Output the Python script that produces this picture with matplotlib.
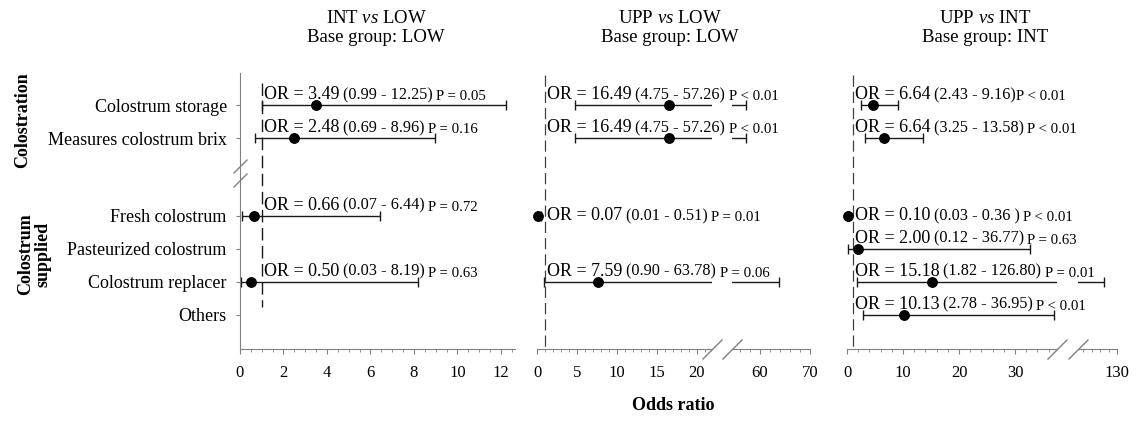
import numpy as np
import matplotlib.pyplot as plt
from matplotlib.ticker import MultipleLocator

plt.rcParams['font.family'] = 'Liberation Serif'
plt.rcParams['mathtext.fontset'] = 'custom'
plt.rcParams['mathtext.rm'] = 'Liberation Serif'
plt.rcParams['mathtext.it'] = 'Liberation Serif:italic'

nan = np.nan
rows = ["Colostrum storage", "Measures colostrum brix", "Fresh colostrum",
        "Pasteurized colostrum", "Colostrum replacer", "Others"]

# INT vs LOW
p1_point = [3.49, 2.48, 0.66, nan, 0.50, nan]
p1_low = [0.99, 0.69, 0.07, nan, 0.03, nan]
p1_high = [12.25, 8.96, 6.44, nan, 8.19, nan]
p1_or = ["OR = 3.49", "OR = 2.48", "OR = 0.66", None, "OR = 0.50", None]
p1_ci = [" (0.99 - 12.25)", " (0.69 - 8.96)", " (0.07 - 6.44)", None, " (0.03 - 8.19)", None]
p1_p = [" P = 0.05", " P = 0.16", " P = 0.72", None, " P = 0.63", None]

# UPP vs LOW
p2_point = [16.49, 16.49, 0.07, nan, 7.59, nan]
p2_low = [4.75, 4.75, 0.01, nan, 0.90, nan]
p2_high = [57.26, 57.26, 0.51, nan, 63.78, nan]
p2_or = ["OR = 16.49", "OR = 16.49", "OR = 0.07", None, "OR = 7.59", None]
p2_ci = [" (4.75 - 57.26)", " (4.75 - 57.26)", " (0.01 - 0.51)", None, " (0.90 - 63.78)", None]
p2_p = [" P < 0.01", " P < 0.01", " P = 0.01", None, " P = 0.06", None]

# UPP vs INT
p3_point = [4.7, 6.64, 0.10, 2.00, 15.18, 10.13]
p3_low = [2.43, 3.25, 0.03, 0.12, 1.82, 2.78]
p3_high = [9.16, 13.58, 0.36, 32.6, 126.80, 36.95]
p3_or = ["OR = 6.64", "OR = 6.64", "OR = 0.10", "OR = 2.00", "OR = 15.18", "OR = 10.13"]
p3_ci = [" (2.43 - 9.16)", " (3.25 - 13.58)", " (0.03 - 0.36 )", " (0.12 - 36.77)",
         " (1.82 - 126.80)", " (2.78 - 36.95)"]
p3_p = ["P < 0.01", " P < 0.01", " P < 0.01", " P = 0.63", " P = 0.01", " P < 0.01"]

titles = ["INT $\\mathit{vs}$ LOW\nBase group: LOW",
          "UPP $\\mathit{vs}$ LOW\nBase group: LOW",
          "UPP $\\mathit{vs}$ INT\nBase group: INT"]

W, H = 1136, 421
GRAY = '#808080'
ypos = np.r_[np.arange(2), np.arange(4) + 3.35]
YLIM = (7.39, -0.97)

fig = plt.figure(figsize=(W / 100, H / 100), dpi=100)


def make_ax(left, width, xlim, z=1):
    ax = fig.add_axes([left / W, (H - 349) / H, width / W, 276 / H], zorder=z)
    ax.patch.set_visible(False)
    ax.set_xlim(*xlim)
    ax.set_ylim(*YLIM)
    for s in ['top', 'right', 'left']:
        ax.spines[s].set_visible(False)
    ax.spines['bottom'].set_color(GRAY)
    ax.set_yticks([])
    ax.tick_params(axis='x', which='major', length=3.5, color=GRAY, labelsize=12, pad=8)
    ax.tick_params(axis='x', which='minor', length=2.5, color=GRAY)
    return ax


def draw(axes, point, low, high):
    point, low, high = map(np.asarray, (point, low, high))
    ok = ~np.isnan(point)
    for i, ax in enumerate(axes):
        ax.errorbar(point[ok], ypos[ok], xerr=[point[ok] - low[ok], high[ok] - point[ok]],
                    fmt='none', ecolor='0.1', elinewidth=1, capsize=3.6, capthick=1)
        if i == 0:
            ax.plot(point[ok], ypos[ok], 'o', color='black', ms=6.8, clip_on=False, zorder=4)


def labels(ax, low, high, ors, cis, ps):
    for y, lo, hi, a, b, c in zip(ypos, low, high, ors, cis, ps):
        if a is None:
            continue
        centered = (hi - lo) < 1
        t = ax.annotate(a, xy=(1, y), xytext=(1.5, 0 if centered else 1.5),
                        textcoords='offset points', ha='left',
                        va='center' if centered else 'bottom', fontsize=13)
        for s, fs in ((b, 11.7), (c, 10.7)):
            gap = 2.6 if s.startswith(' ') else 0.3
            t = ax.annotate(s.strip(), xy=(1, 0), xycoords=t, xytext=(gap, 0),
                            textcoords='offset points', ha='left', va='bottom', fontsize=fs)


def breaks(ax_l, ax_r):
    kw = dict(marker=[(-1, -1), (1, 1)], markersize=14.4, linestyle='none',
              color=GRAY, mec=GRAY, mew=1, clip_on=False)
    ax_l.plot([1], [0], transform=ax_l.transAxes, **kw)
    ax_r.plot([0], [0], transform=ax_r.transAxes, **kw)


# panel 1
ax1 = make_ax(240, 275, (0, 12.65), z=2)
ax1.spines['left'].set_visible(True)
ax1.spines['left'].set_color(GRAY)
ax1.set_yticks(ypos, rows)
ax1.tick_params(axis='y', length=3, color=GRAY, labelsize=13, pad=6.5)
ax1.xaxis.set_major_locator(MultipleLocator(2))
ax1.xaxis.set_minor_locator(MultipleLocator(0.5))
ax1.vlines(1, -0.67, 6.12, colors='0.1', lw=1, linestyles=(0, (9, 4)))
draw([ax1], p1_point, p1_low, p1_high)
labels(ax1, p1_low, p1_high, p1_or, p1_ci, p1_p)
ax1.plot([0, 0], [1.85, 2.27], transform=ax1.get_yaxis_transform(), marker=[(-1, -1), (1, 1)],
         markersize=10, linestyle='none', color=GRAY, mec=GRAY, mew=1, clip_on=False)

# panel 2
ax2a = make_ax(537, 175, (0, 21.9), z=2)
ax2b = make_ax(732, 78, (54.4, 70))
ax2a.xaxis.set_major_locator(MultipleLocator(5))
ax2a.xaxis.set_minor_locator(MultipleLocator(1))
ax2b.set_xticks([60, 70])
ax2b.xaxis.set_minor_locator(MultipleLocator(2))
ax2a.vlines(1, -0.9, 7.39, colors='0.25', lw=0.9, linestyles=(0, (9, 4)))
draw([ax2a, ax2b], p2_point, p2_low, p2_high)
labels(ax2a, p2_low, p2_high, p2_or, p2_ci, p2_p)
breaks(ax2a, ax2b)

# panel 3
ax3a = make_ax(847, 210, (0, 37.5), z=2)
ax3b = make_ax(1078, 39, (120.7, 130))
ax3a.xaxis.set_major_locator(MultipleLocator(10))
ax3a.xaxis.set_minor_locator(MultipleLocator(2))
ax3b.set_xticks([130])
ax3b.xaxis.set_minor_locator(MultipleLocator(2))
ax3a.vlines(1, -0.9, 7.39, colors='0.25', lw=0.9, linestyles=(0, (9, 4)))
draw([ax3a, ax3b], p3_point, p3_low, p3_high)
labels(ax3a, p3_low, p3_high, p3_or, p3_ci, p3_p)
breaks(ax3a, ax3b)

# titles
for cx, t in zip([376, 670, 985], titles):
    fig.text(cx / W, 1 - 28 / H, t, ha='center', va='center', fontsize=13.5, linespacing=1.1)

fig.text(23 / W, 1 - 120 / H, 'Colostration', rotation=90, fontweight='bold',
         fontsize=13, ha='center', va='center')
fig.text(34 / W, 1 - 254 / H, 'Colostrum\nsupplied', rotation=90, fontweight='bold',
         fontsize=13, ha='center', va='center', multialignment='center', linespacing=1.05)
fig.text(673 / W, 1 - 405 / H, 'Odds ratio', fontweight='bold', fontsize=13,
         ha='center', va='center')

fig.savefig('out.png', dpi=100)
